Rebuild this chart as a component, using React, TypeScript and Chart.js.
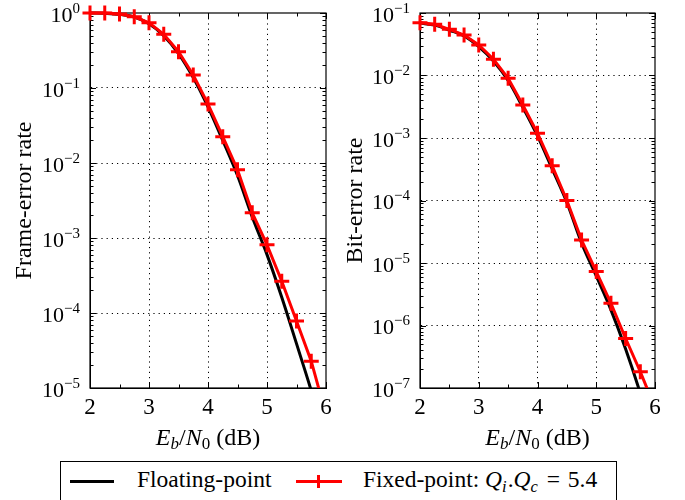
import React, { useEffect, useRef } from 'react';
import { Chart, registerables } from 'chart.js';

Chart.register(...registerables);

// ---- data ----
const ebn0 = [2, 2.25, 2.5, 2.75, 3, 3.25, 3.5, 3.75, 4, 4.25, 4.5, 4.75, 5, 5.25, 5.5, 5.75, 6];
// marker drawn at every simulated point except the last (6 dB) extension
const markerShown = [1, 1, 1, 1, 1, 1, 1, 1, 1, 1, 1, 1, 1, 1, 1, 1, 0];

const ferFloat = [1.0, 0.99, 0.96, 0.88, 0.72, 0.5, 0.288, 0.138, 0.056, 0.02, 0.0068, 0.0019, 6.0e-4, 1.62e-4, 3.9e-5, 9.2e-6, 1.9e-6];
const ferFixed = [1.0, 0.998, 0.97, 0.89, 0.74, 0.52, 0.305, 0.149, 0.061, 0.0224, 0.0081, 0.00217, 8.1e-4, 2.65e-4, 7.8e-5, 2.28e-5, 4.4e-6];
const berFloat = [0.069, 0.064, 0.053, 0.043, 0.029, 0.017, 0.0083, 0.0031, 0.00108, 3.2e-4, 9.3e-5, 2.1e-5, 6.2e-6, 1.78e-6, 4.2e-7, 8.2e-8, 1.3e-8];
const berFixed = [0.07, 0.066, 0.0548, 0.0445, 0.0308, 0.0182, 0.009, 0.00337, 0.00119, 3.6e-4, 1.0e-4, 2.33e-5, 7.3e-6, 2.27e-6, 6.2e-7, 1.82e-7, 4.8e-8];

const xTickLabels = ['2', '3', '4', '5', '6'];
const xMin = 2;
const xMax = 6;
const ferRange = [1e-5, 1];
const berRange = [1e-7, 1e-1];

const legendLabels = ['Floating-point', 'Fixed-point'];
const yTitles = ['Frame-error rate', 'Bit-error rate'];
const xTitleParts = [
  { t: 'E', it: true, sub: false },
  { t: 'b', it: true, sub: true },
  { t: '/', it: false, sub: false },
  { t: 'N', it: true, sub: false },
  { t: '0', it: false, sub: true },
  { t: ' (dB)', it: false, sub: false },
];

const FONT = '"Liberation Serif", "Times New Roman", serif';

const isDecade = (v: number) => {
  const l = Math.log10(v);
  return Math.abs(l - Math.round(l)) < 1e-6;
};

const framePlugin = {
  id: 'frameTicks',
  beforeDatasetsDraw(chart: any) {
    const { ctx, chartArea: a } = chart;
    const xs = chart.scales.x;
    const ys = chart.scales.y;
    ctx.save();
    ctx.strokeStyle = '#000';
    ctx.lineWidth = 1;
    const e0 = Math.floor(Math.log10(ys.min));
    const e1 = Math.ceil(Math.log10(ys.max));
    ctx.beginPath();
    for (let e = e0; e <= e1; e++) {
      for (let s = 1; s <= 9; s++) {
        const v = s * Math.pow(10, e);
        if (v < ys.min * 0.999 || v > ys.max * 1.001) continue;
        const y = Math.round(ys.getPixelForValue(v)) + 0.5;
        const len = s === 1 ? 6 : 3.5;
        ctx.moveTo(a.left, y);
        ctx.lineTo(a.left + len, y);
        ctx.moveTo(a.right, y);
        ctx.lineTo(a.right - len, y);
      }
    }
    for (let v = xs.min; v <= xs.max + 1e-9; v += 0.5) {
      const x = Math.round(xs.getPixelForValue(v)) + 0.5;
      const len = Number.isInteger(v) ? 6 : 3.5;
      ctx.moveTo(x, a.bottom);
      ctx.lineTo(x, a.bottom - len);
      ctx.moveTo(x, a.top);
      ctx.lineTo(x, a.top + len);
    }
    ctx.stroke();
    ctx.lineWidth = 1.2;
    ctx.strokeRect(a.left, a.top, a.right - a.left, a.bottom - a.top);
    ctx.restore();
  },
};

// y tick labels drawn as 10 with a raised exponent
const yLabelPlugin = {
  id: 'yPowLabels',
  afterDraw(chart: any) {
    const { ctx, chartArea: a } = chart;
    const ys = chart.scales.y;
    const e0 = Math.round(Math.log10(ys.min));
    const e1 = Math.round(Math.log10(ys.max));
    ctx.save();
    ctx.fillStyle = '#000';
    ctx.textAlign = 'right';
    ctx.textBaseline = 'alphabetic';
    for (let e = e0; e <= e1; e++) {
      const y = ys.getPixelForValue(Math.pow(10, e));
      const xr = a.left - 10;
      const expo = e < 0 ? '\u2212' + String(-e) : String(e);
      ctx.font = `15px ${FONT}`;
      const we = ctx.measureText(expo).width;
      ctx.fillText(expo, xr, y - 0.5);
      ctx.font = `22px ${FONT}`;
      ctx.fillText('10', xr - we, y + 8.5);
    }
    ctx.restore();
  },
};

const xTitlePlugin = {
  id: 'xTitleRich',
  afterDraw(chart: any) {
    const { ctx, chartArea: a } = chart;
    const size = 24;
    const subSize = 17;
    const fontFor = (p: any) => `${p.it ? 'italic ' : ''}${p.sub ? subSize : size}px ${FONT}`;
    ctx.save();
    let total = 0;
    const widths = xTitleParts.map((p) => {
      ctx.font = fontFor(p);
      const w = ctx.measureText(p.t).width;
      total += w;
      return w;
    });
    let x = (a.left + a.right) / 2 - total / 2;
    const base = 445;
    ctx.fillStyle = '#000';
    ctx.textBaseline = 'alphabetic';
    ctx.textAlign = 'left';
    xTitleParts.forEach((p, i) => {
      ctx.font = fontFor(p);
      ctx.fillText(p.t, x, p.sub ? base + 4 : base);
      x += widths[i];
    });
    ctx.restore();
  },
};

function makeConfig(fixed: number[], float: number[], range: number[], yTitle: string, titlePad: number, yWidth: number, padRight: number) {
  const clip = { left: 12, top: 12, right: 12, bottom: 0 };
  return {
    type: 'line',
    data: {
      datasets: [
        {
          label: legendLabels[1],
          data: ebn0.map((x, i) => ({ x, y: fixed[i] })),
          borderColor: '#ff0000',
          borderWidth: 3,
          pointStyle: 'cross',
          pointRadius: markerShown.map((m) => (m ? 7.5 : 0)),
          pointBorderWidth: 3,
          pointBorderColor: '#ff0000',
          pointBackgroundColor: '#ff0000',
          tension: 0,
          fill: false,
          clip,
        },
        {
          label: legendLabels[0],
          data: ebn0.map((x, i) => ({ x, y: float[i] })),
          borderColor: '#000000',
          borderWidth: 3,
          pointRadius: 0,
          cubicInterpolationMode: 'monotone',
          fill: false,
          clip,
        },
      ],
    },
    options: {
      animation: false,
      responsive: false,
      maintainAspectRatio: false,
      events: [],
      layout: { padding: { left: 0, top: 13, right: padRight, bottom: 0 } },
      plugins: { legend: { display: false }, tooltip: { enabled: false } },
      scales: {
        x: {
          type: 'linear',
          min: xMin,
          max: xMax,
          afterFit: (s: any) => {
            s.height = 72;
          },
          ticks: {
            stepSize: 0.5,
            autoSkip: false,
            maxRotation: 0,
            padding: 6,
            color: '#000',
            font: { family: FONT, size: 23 },
            callback: (v: number) => (Number.isInteger(v) && xTickLabels.includes(String(v)) ? String(v) : ''),
          },
          grid: {
            drawTicks: false,
            lineWidth: 1,
            color: (c: any) => {
              const v = c.tick && c.tick.value;
              return Number.isInteger(v) && v > xMin && v < xMax ? '#000' : 'rgba(0,0,0,0)';
            },
          },
          border: { display: true, color: '#000', width: 1, dash: [1.2, 4] },
        },
        y: {
          type: 'logarithmic',
          min: range[0],
          max: range[1],
          afterFit: (s: any) => {
            s.width = yWidth;
          },
          ticks: {
            display: false,
            autoSkip: false,
          },
          grid: {
            drawTicks: false,
            lineWidth: 1,
            color: (c: any) => {
              const v = c.tick && c.tick.value;
              if (!v || !isDecade(v)) return 'rgba(0,0,0,0)';
              if (Math.abs(Math.log10(v) - Math.log10(range[0])) < 1e-6) return 'rgba(0,0,0,0)';
              if (Math.abs(Math.log10(v) - Math.log10(range[1])) < 1e-6) return 'rgba(0,0,0,0)';
              return '#000';
            },
          },
          border: { display: true, color: '#000', width: 1, dash: [1.2, 4] },
          title: {
            display: true,
            text: yTitle,
            color: '#000',
            font: { family: FONT, size: 24 },
            padding: { top: titlePad, bottom: 0 },
          },
        },
      },
    },
    plugins: [framePlugin, yLabelPlugin, xTitlePlugin],
  };
}

export default function App() {
  const leftRef = useRef<HTMLCanvasElement | null>(null);
  const rightRef = useRef<HTMLCanvasElement | null>(null);

  useEffect(() => {
    const c1 = new Chart(leftRef.current as any, makeConfig(ferFixed, ferFloat, ferRange, yTitles[0], 10, 90, 14) as any);
    const c2 = new Chart(rightRef.current as any, makeConfig(berFixed, berFloat, berRange, yTitles[1], 1, 80, 30) as any);
    return () => {
      c1.destroy();
      c2.destroy();
    };
  }, []);

  const legendText: React.CSSProperties = {
    position: 'absolute',
    top: 465,
    fontSize: 23.5,
    lineHeight: '28px',
    fontFamily: FONT,
    color: '#000',
    whiteSpace: 'nowrap',
  };
  const subStyle: React.CSSProperties = { fontSize: '0.7em', position: 'relative', top: '0.3em', marginRight: 1 };

  return (
    <div style={{ position: 'absolute', left: 0, top: 0, width: 685, height: 500, overflow: 'hidden', background: '#fff' }}>
      <canvas ref={leftRef} width={340} height={460} style={{ position: 'absolute', left: 0, top: 0, width: 340, height: 460 }} />
      <canvas ref={rightRef} width={345} height={460} style={{ position: 'absolute', left: 340, top: 0, width: 345, height: 460 }} />
      <div style={{ position: 'absolute', left: 60, top: 461, width: 557, height: 60, border: '1px solid #000', boxSizing: 'border-box' }} />
      <div style={{ position: 'absolute', left: 70, top: 480, width: 44, height: 3, background: '#000' }} />
      <span style={{ ...legendText, left: 137 }}>{legendLabels[0]}</span>
      <div style={{ position: 'absolute', left: 296, top: 480, width: 46, height: 3, background: '#ff0000' }} />
      <div style={{ position: 'absolute', left: 317, top: 475, width: 3, height: 13, background: '#ff0000' }} />
      <span style={{ ...legendText, left: 363 }}>
        {legendLabels[1]}: <i>Q</i>
        <span style={subStyle}><i>i</i></span>.<i>Q</i>
        <span style={subStyle}><i>c</i></span>
        <span style={{ margin: '0 2px' }}> = </span>5.4
      </span>
    </div>
  );
}
